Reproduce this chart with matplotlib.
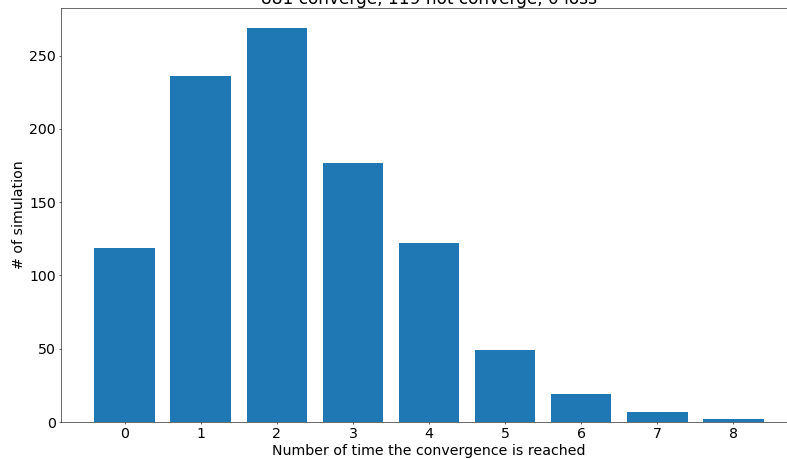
import matplotlib
matplotlib.use('Agg')
import matplotlib.pyplot as plt

# number of times convergence is reached vs number of simulations
times = [0, 1, 2, 3, 4, 5, 6, 7, 8]
counts = [119, 236, 269, 177, 122, 49, 19, 7, 2]
title = '881 converge, 119 not converge, 0 loss'

plt.rcParams['font.size'] = 20

dpi = 51
fig = plt.figure(figsize=(787 / dpi, 459 / dpi), dpi=dpi)
ax = fig.add_axes([61 / 787, 37 / 459, 736 / 787, 414 / 459])
ax.bar(times, counts, color='#1f77b4')
ax.set_xticks(times)
ax.set_xlabel('Number of time the convergence is reached')
ax.set_ylabel('# of simulation')
ax.set_title(title)

fig.savefig('out.png', dpi=dpi)
